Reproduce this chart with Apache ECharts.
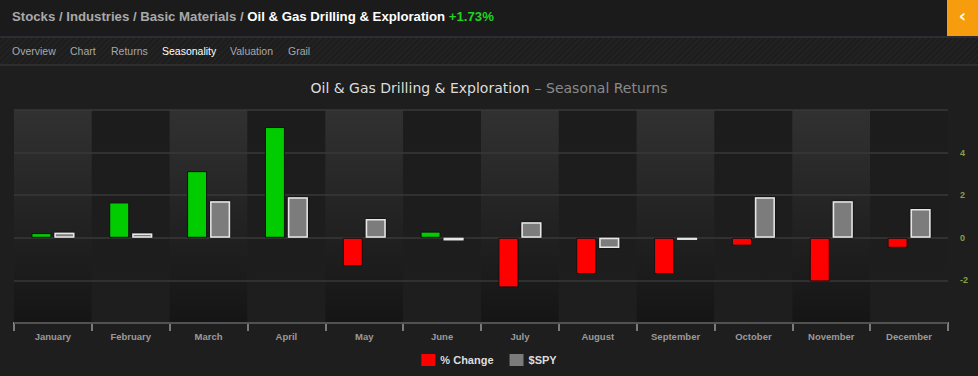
<!DOCTYPE html>
<html>
<head>
<meta charset="utf-8">
<script src="https://cdn.jsdelivr.net/npm/echarts@6/dist/echarts.min.js"></script>
<style>
	html, body { margin: 0; padding: 0; width: 978px; height: 376px; background: #1e1e1e; overflow: hidden; }
	#chart { position: absolute; left: 0; top: 0; width: 978px; height: 376px; }
	.head {
		position: absolute; left: 0; top: 0; width: 978px; height: 38px; background: #1b1b1b;
		font: bold 13.2px "Liberation Sans", Arial, sans-serif; color: #a9a9a9; line-height: 33px;
		box-sizing: border-box; padding-left: 12px; border-bottom: 2px solid #2d2b36;
	}
	.head .cur { color: #fff; }
	.head .chg { color: #1fd31f; }
	.back {
		position: absolute; right: 0; top: 0; width: 31px; height: 36px; background: #f79d0d;
		color: #fff; font: bold 18px "DejaVu Sans", sans-serif; text-align: center; line-height: 32px;
	}
	.tabs {
		position: absolute; left: 0; top: 38px; width: 978px; height: 26px;
		background: repeating-linear-gradient(135deg, #1d1d1d 0px, #1d1d1d 2px, #222 2px, #222 4px);
		border-bottom: 2px solid #2e2e2e;
		font: 10.5px "Liberation Sans", Arial, sans-serif; color: #a8a8a8; line-height: 27px;
	}
	.tabs span { position: absolute; top: 0; }
	.tabs .on { color: #fff; }
</style>
</head>
<body>
<div id="chart"></div>
<div class="head">Stocks / Industries / Basic Materials / <span class="cur">Oil &amp; Gas Drilling &amp; Exploration</span> <span class="chg">+1.73%</span></div>
<div class="back">&#8249;</div>
<div class="tabs">
	<span style="left:12px">Overview</span>
	<span style="left:70px">Chart</span>
	<span style="left:111px">Returns</span>
	<span style="left:162px" class="on">Seasonality</span>
	<span style="left:230px">Valuation</span>
	<span style="left:288px">Grail</span>
</div>
<script>
	// 数据
	var months = ['January', 'February', 'March', 'April', 'May', 'June', 'July', 'August', 'September', 'October', 'November', 'December'];
	var pctChange = [0.22, 1.66, 3.13, 5.2, -1.33, 0.29, -2.33, -1.7, -1.7, -0.37, -2.05, -0.47];
	var spyChange = [0.24, 0.2, 1.72, 1.9, 0.88, -0.12, 0.73, -0.48, -0.1, 1.9, 1.72, 1.35];

	var myChart = echarts.init(document.getElementById('chart'), null, { renderer: 'svg' });

	var lightBand = new echarts.graphic.LinearGradient(0, 0, 0, 1, [
		{ offset: 0, color: '#313131' },
		{ offset: 1, color: '#151515' }
	]);
	var darkBand = new echarts.graphic.LinearGradient(0, 0, 0, 1, [
		{ offset: 0, color: '#1c1c1c' },
		{ offset: 1, color: '#1e1e1e' }
	]);

	// 正数绿色，负数红色
	var pctData = pctChange.map(function (v) {
		return v >= 0 ? { value: v, itemStyle: { color: '#00cc00' } } : v;
	});

	var option = {
		backgroundColor: '#1e1e1e',
		animation: false,
		title: {
			text: '{a|Oil & Gas Drilling & Exploration} {b|– Seasonal Returns}',
			left: 'center',
			top: 74,
			textStyle: {
				rich: {
					a: { color: '#dcdcdc', fontSize: 14, fontWeight: 'normal', fontFamily: 'DejaVu Sans' },
					b: { color: '#8a8a8a', fontSize: 14, fontWeight: 'normal', fontFamily: 'DejaVu Sans' }
				}
			}
		},
		legend: {
			bottom: 5,
			left: 'center',
			itemWidth: 14,
			itemHeight: 12,
			itemGap: 16,
			icon: 'rect',
			textStyle: { color: '#dddddd', fontSize: 11, fontWeight: 'bold', fontFamily: 'Liberation Sans' },
			data: [
				{ name: '% Change', itemStyle: { color: '#ff0000', borderWidth: 0 } },
				{ name: '$SPY', itemStyle: { color: '#7b7b7b', borderWidth: 0 } }
			]
		},
		grid: {
			left: 14,
			right: 30,
			top: 110,
			bottom: 53,
			containLabel: false
		},
		xAxis: {
			type: 'category',
			data: months,
			z: 0,
			axisLine: { onZero: false, lineStyle: { color: '#9a9a9a', width: 2 } },
			axisTick: { show: true, length: 8, lineStyle: { color: '#9a9a9a', width: 1.5 } },
			axisLabel: {
				color: '#9a9a9a',
				fontSize: 9.5,
				fontWeight: 'bold',
				fontFamily: 'Liberation Sans',
				margin: 8
			},
			splitArea: {
				show: true,
				areaStyle: { color: [lightBand, darkBand] }
			}
		},
		yAxis: {
			type: 'value',
			position: 'right',
			z: 1,
			min: -4,
			max: 6,
			interval: 2,
			axisLine: { show: false },
			axisTick: { show: false },
			axisLabel: {
				showMinLabel: false,
				showMaxLabel: false,
				color: '#86a043',
				fontSize: 9,
				fontWeight: 'bold',
				fontFamily: 'Liberation Sans',
				margin: 12
			},
			splitLine: { lineStyle: { color: '#383838', width: 1.5 } }
		},
		series: [{
			name: '% Change',
			type: 'bar',
			barWidth: 20,
			barGap: '15%',
			itemStyle: { color: '#ff0000', borderColor: '#111', borderWidth: 1 },
			data: pctData
		}, {
			name: '$SPY',
			type: 'bar',
			barWidth: 20,
			itemStyle: {
				color: '#7b7b7b',
				borderColor: '#e6e6e6',
				borderWidth: 1.5,
				shadowColor: '#000',
				shadowBlur: 2
			},
			data: spyChange
		}]
	};

	myChart.setOption(option);
</script>
</body>
</html>
